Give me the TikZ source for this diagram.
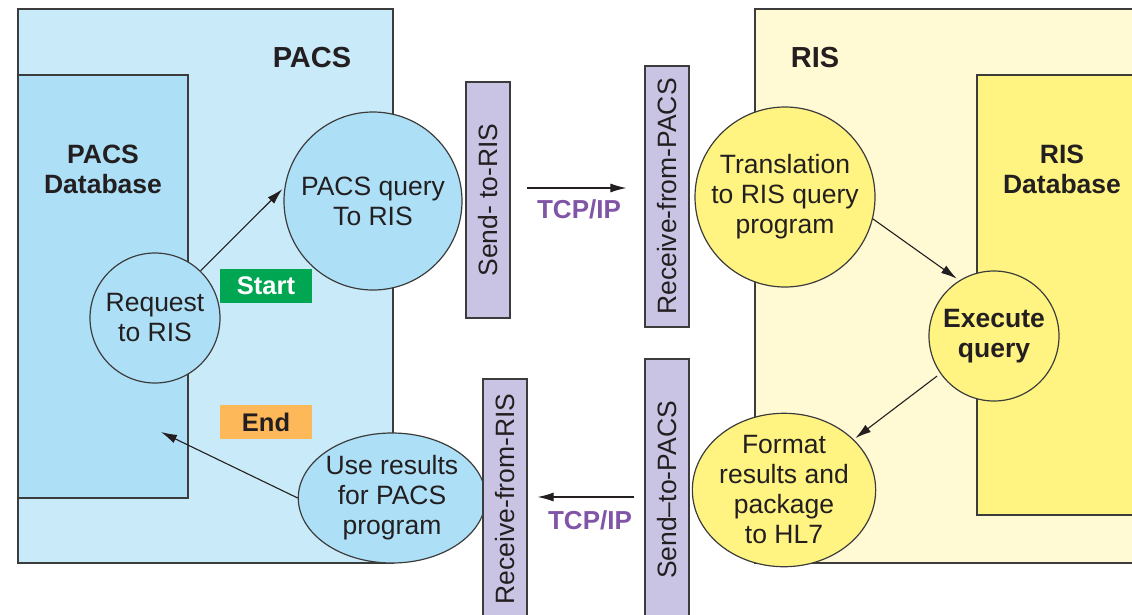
\documentclass[tikz,border=0pt]{standalone}
\usepackage{fontspec}
\setmainfont{Liberation Sans}
\usetikzlibrary{arrows.meta,shapes.geometric}

\definecolor{pacsbg}{RGB}{201,234,249}
\definecolor{pacsfill}{RGB}{173,224,247}
\definecolor{risbg}{RGB}{255,249,212}
\definecolor{risfill}{RGB}{255,244,130}
\definecolor{barfill}{RGB}{201,196,227}
\definecolor{startgreen}{RGB}{0,166,81}
\definecolor{endorange}{RGB}{253,184,90}
\definecolor{tcppurple}{RGB}{128,84,166}
\definecolor{edge}{RGB}{60,60,60}
\definecolor{ink}{RGB}{35,31,32}

\tikzset{
  box/.style={draw=edge, line width=1.2pt},
  txt/.style={font=\fontsize{26.5}{30}\selectfont, text=ink, align=center},
  boldtxt/.style={font=\fontsize{26.5}{30}\selectfont\bfseries, text=ink, align=center},
  proc/.style={circle, draw=edge, line width=1.2pt, inner sep=0pt, txt},
  oval/.style={ellipse, draw=edge, line width=1.2pt, inner sep=0pt, txt},
  bar/.style={draw=edge, line width=1.2pt, fill=barfill, minimum width=44pt, inner sep=0pt, txt},
  tag/.style={minimum width=92pt, minimum height=34pt, inner sep=0pt,
              font=\fontsize{25.5}{30}\selectfont\bfseries},
  arr/.style={draw=ink, line width=1.1pt, -{Latex[length=16pt,width=9pt]}},
  tcp/.style={font=\fontsize{26}{30}\selectfont\bfseries, text=tcppurple}
}

\begin{document}
\begin{tikzpicture}[x=1pt, y=-1pt]
\useasboundingbox (0,0) rectangle (1132,614);
\clip (0,0) rectangle (1132,614);

% system boundaries
\draw[box, fill=pacsbg] (18,9) rectangle (393,563);
\draw[box, fill=pacsfill] (18,75) rectangle (188,498);
\draw[box, fill=risbg] (755,9) rectangle (1150,563);
\draw[box, fill=risfill] (977,75) rectangle (1150,515);

% titles
\node[font=\fontsize{29}{32}\selectfont\bfseries, text=ink] (pacs) at (312,58) {PACS};
\node[font=\fontsize{29}{32}\selectfont\bfseries, text=ink] (ris) at (815,58) {RIS};
\node[boldtxt] (pacsdb) at (103,169) {PACS\\Database};
\node[boldtxt] (risdb) at (1062,169) {RIS\\Database};

% PACS processes
\node[proc, fill=pacsfill, minimum size=130pt] (req) at (155,318) {Request\\to RIS};
\node[proc, fill=pacsfill, minimum size=178pt] (pq) at (373,201) {PACS query\\To RIS};
\node[oval, fill=pacsfill, minimum width=180pt, minimum height=130pt] (use) at (392,498) {Use results\\for PACS\\program};

% RIS processes
\node[proc, fill=risfill, minimum size=180pt] (tr) at (785,197) {Translation\\to RIS query\\program};
\node[proc, fill=risfill, minimum size=130pt, font=\fontsize{26.5}{30}\selectfont\bfseries] (ex) at (994,336) {Execute\\query};
\node[oval, fill=risfill, minimum width=170pt, minimum height=146pt] (fmt) at (784,490) {Format\\results and\\package\\to HL7};

% interface bars
\node[bar, minimum height=236pt] (s2r) at (488,200) {\rotatebox{90}{Send- to-RIS}};
\node[bar, minimum height=261pt] (rfp) at (667,196.5) {\rotatebox{90}{Receive-from-PACS}};
\node[bar, minimum height=240pt] (r2r) at (505,499) {\rotatebox{90}{Receive-from-RIS}};
\node[bar, minimum height=262pt] (s2p) at (667,490) {\rotatebox{90}{Send--to-PACS}};

% start / end tags
\node[tag, fill=startgreen, text=white] (start) at (266,286) {Start};
\node[tag, fill=endorange, text=ink] (end) at (266,422) {End};

% network labels
\node[tcp] (tcp1) at (579,209) {TCP/IP};
\node[tcp] (tcp2) at (590,520) {TCP/IP};

% flow
\coordinate (back) at (161,432);
\draw[arr, shorten >=3pt] (req.46) -- (pq.171);
\draw[arr, shorten <=16pt, shorten >=18pt] (s2r.east |- 0,188) -- (rfp.west |- 0,188);
\draw[arr, shorten >=3pt] (tr.-14) -- (ex.122);
\draw[arr, shorten <=4pt, shorten >=2pt] (ex.215) -- (fmt.36);
\draw[arr, shorten <=10pt, shorten >=10pt] (s2p.west |- 0,497) -- (r2r.east |- 0,497);
\draw[arr] (use.180) -- (back);
\end{tikzpicture}
\end{document}
